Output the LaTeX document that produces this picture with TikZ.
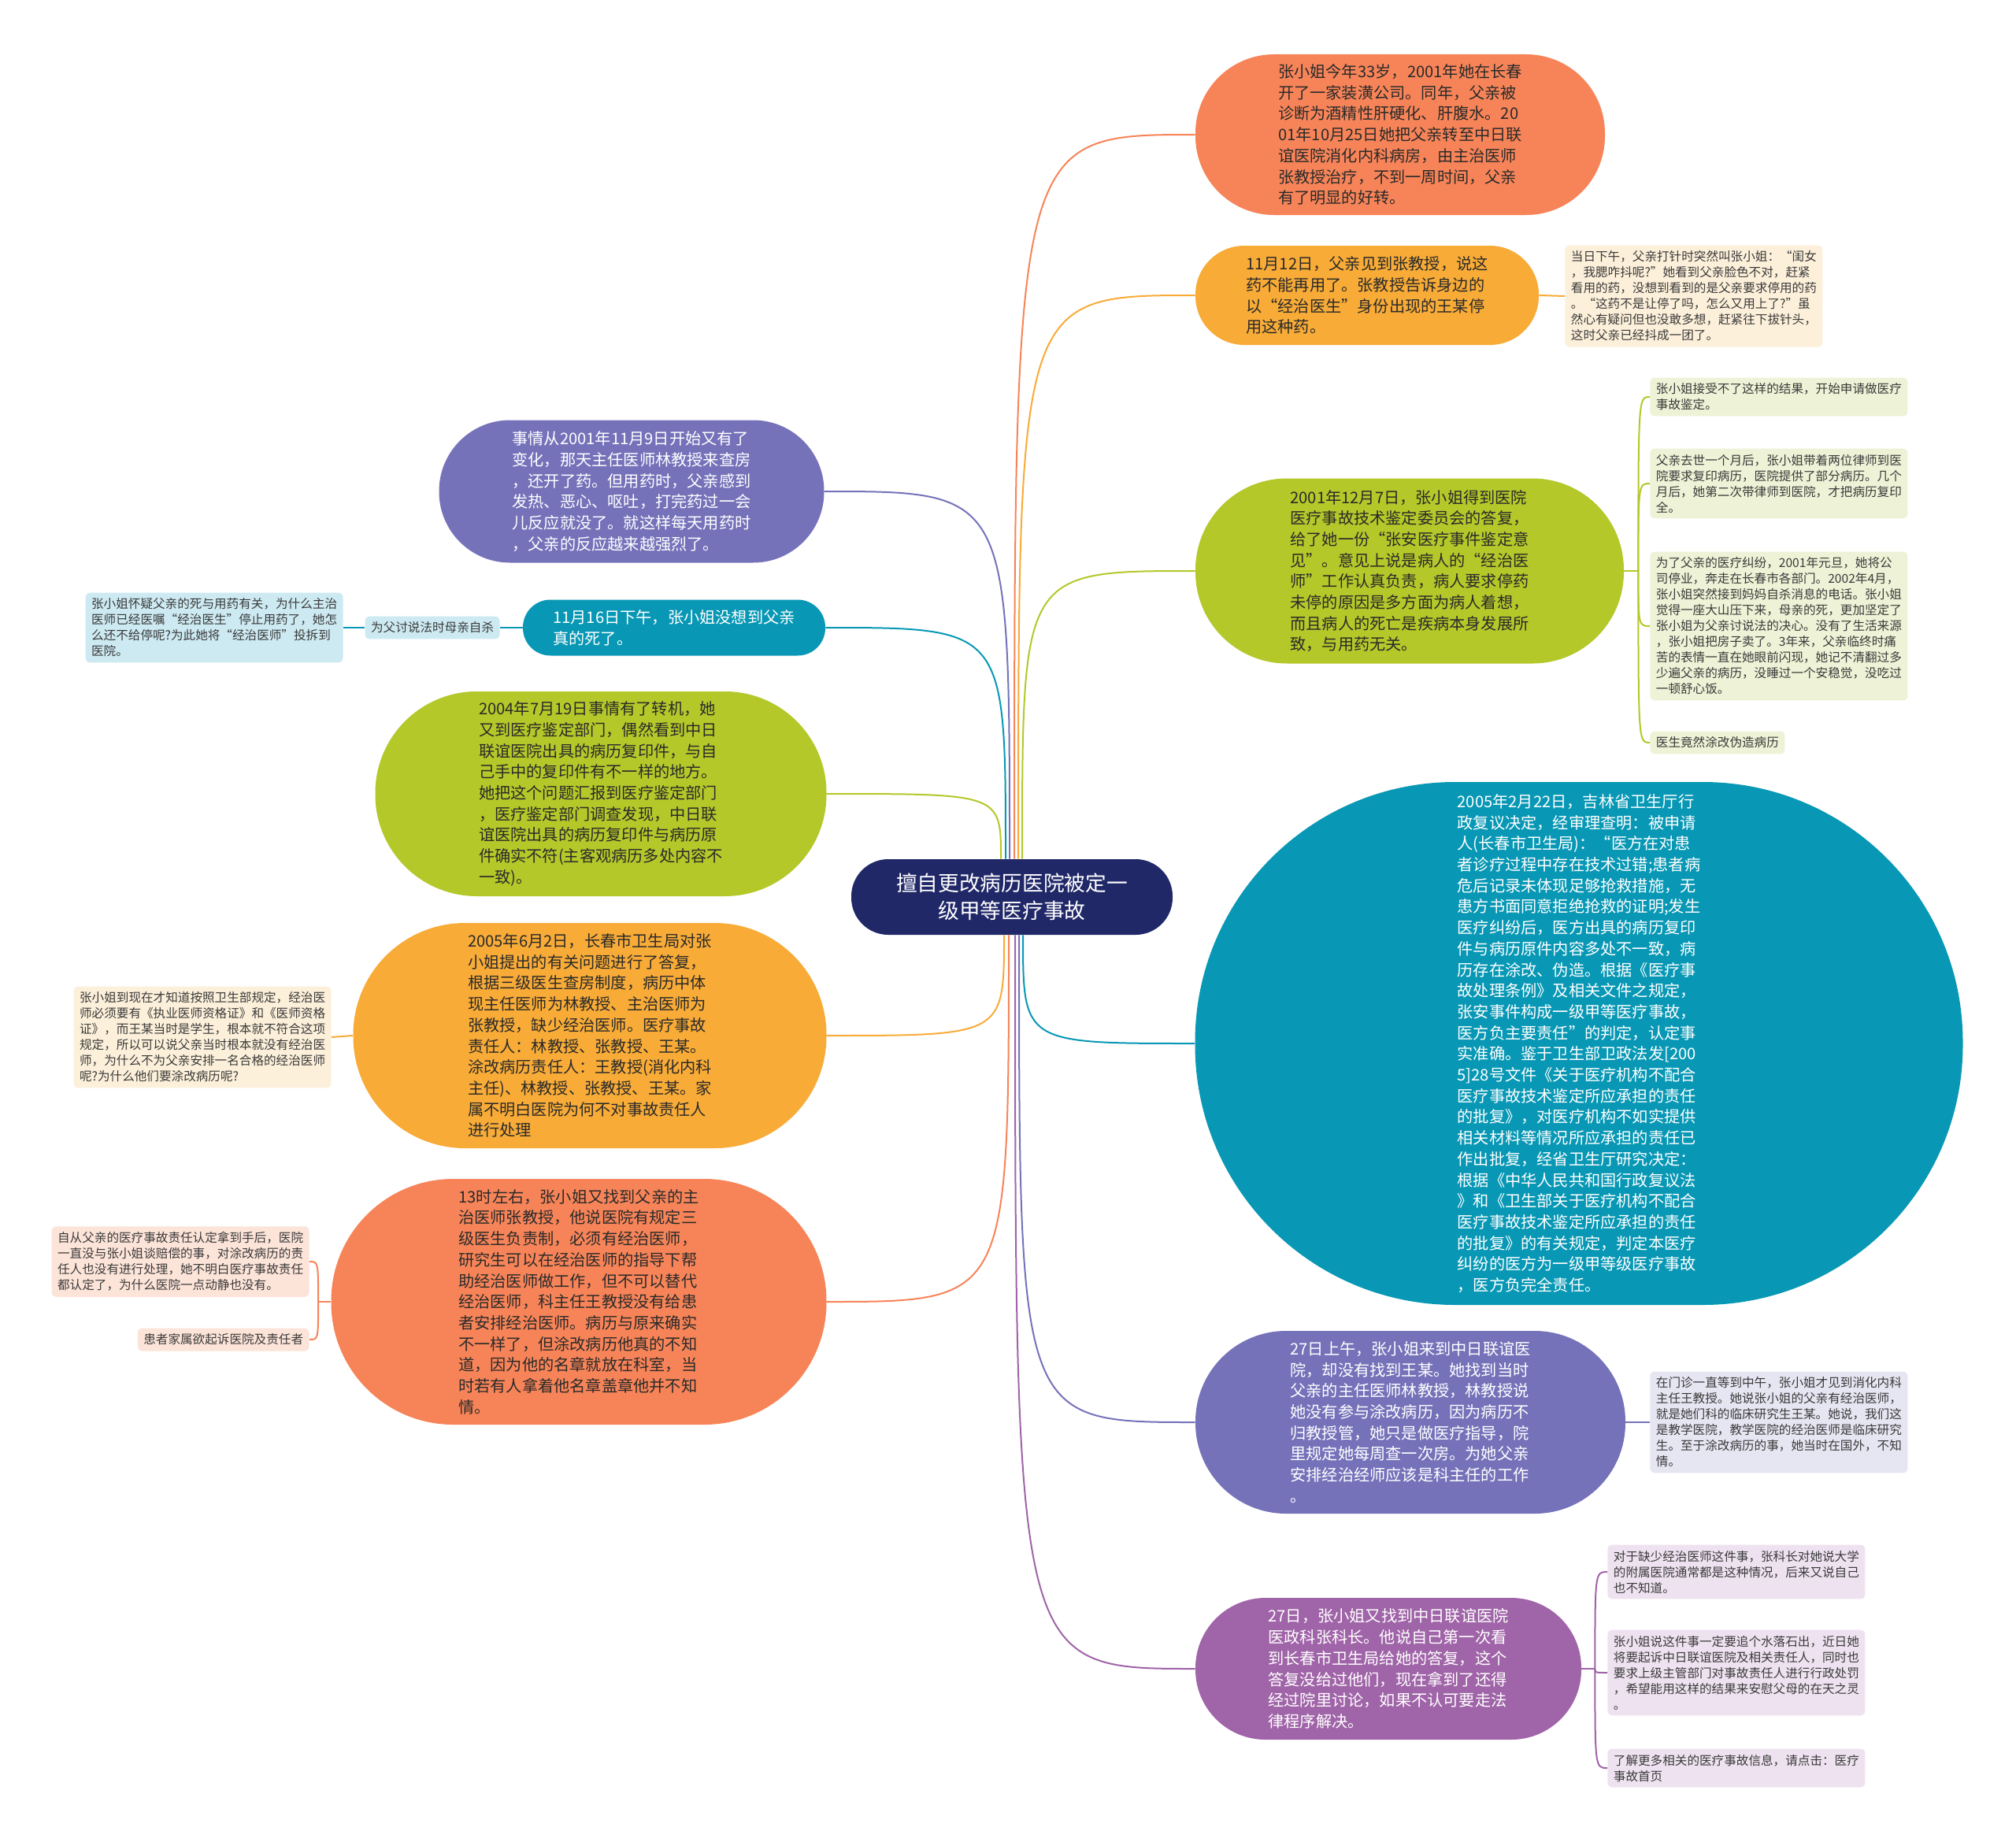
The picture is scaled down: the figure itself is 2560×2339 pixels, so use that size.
\documentclass[tikz,border=0pt]{standalone}
\usepackage{fontspec}
\setmainfont{Noto Sans CJK SC}
\usetikzlibrary{calc}
\definecolor{cNavy}{HTML}{202868}
\definecolor{cOrange}{HTML}{F78458}
\definecolor{cYellow}{HTML}{F8AB37}
\definecolor{cGreen}{HTML}{B4C829}
\definecolor{cTeal}{HTML}{0898B5}
\definecolor{cPurple}{HTML}{7572BA}
\definecolor{cMagenta}{HTML}{A064A8}
\definecolor{nCream}{HTML}{FDF0DA}
\definecolor{nGreen}{HTML}{EEF2D6}
\definecolor{nLav}{HTML}{E6E5F2}
\definecolor{nPink}{HTML}{EEE2F0}
\definecolor{nBlue}{HTML}{CDEAF2}
\definecolor{nSalmon}{HTML}{FDE4D9}
\definecolor{tDark}{HTML}{2A2A2A}
\definecolor{tNote}{HTML}{3A3A3A}
\begin{document}
\begin{tikzpicture}[x=0.5pt,y=-0.5pt,
  topic/.style={rectangle, align=left, inner sep=0pt, font=\fontsize{10.1pt}{13.35pt}\selectfont},
  note/.style={rectangle, rounded corners=3pt, align=left, inner xsep=3.75pt, inner ysep=3.6pt, text=tNote, font=\fontsize{7.8pt}{10pt}\selectfont},
  conn/.style={line width=1pt}]
\fill[white] (0,0) rectangle (2560,2339);
\useasboundingbox (0,0) rectangle (2560,2339);

% centre
\node[rectangle, align=center, inner sep=0pt, fill=cNavy, text=white, minimum width=204pt, minimum height=48pt, rounded corners=23.5pt, font=\fontsize{13.35pt}{17.5pt}\selectfont] (c) at (1285,1139) {擅自更改病历医院被定一\\级甲等医疗事故};

% right topics
\node[topic, fill=cOrange, text=tDark, minimum width=260pt, minimum height=102pt, rounded corners=50pt] (r1) at (1778,171) {张小姐今年33岁，2001年她在长春\\开了一家装潢公司。同年，父亲被\\诊断为酒精性肝硬化、肝腹水。20\\01年10月25日她把父亲转至中日联\\谊医院消化内科病房，由主治医师\\张教授治疗，不到一周时间，父亲\\有了明显的好转。};
\node[topic, fill=cYellow, text=tDark, minimum width=218pt, minimum height=63pt, rounded corners=31pt] (r2) at (1736,375) {11月12日，父亲见到张教授，说这\\药不能再用了。张教授告诉身边的\\以“经治医生”身份出现的王某停\\用这种药。};
\node[topic, fill=cGreen, text=tDark, minimum width=272pt, minimum height=117.5pt, rounded corners=58pt] (r3) at (1790,725) {2001年12月7日，张小姐得到医院\\医疗事故技术鉴定委员会的答复，\\给了她一份“张安医疗事件鉴定意\\见”。意见上说是病人的“经治医\\师”工作认真负责，病人要求停药\\未停的原因是多方面为病人着想，\\而且病人的死亡是疾病本身发展所\\致，与用药无关。};
\node[topic, fill=cTeal, text=white, minimum width=487.5pt, minimum height=332pt, rounded corners=165pt] (r4) at (2005,1325) {2005年2月22日，吉林省卫生厅行\\政复议决定，经审理查明：被申请\\人(长春市卫生局)：“医方在对患\\者诊疗过程中存在技术过错;患者病\\危后记录未体现足够抢救措施，无\\患方书面同意拒绝抢救的证明;发生\\医疗纠纷后，医方出具的病历复印\\件与病历原件内容多处不一致，病\\历存在涂改、伪造。根据《医疗事\\故处理条例》及相关文件之规定，\\张安事件构成一级甲等医疗事故，\\医方负主要责任”的判定，认定事\\实准确。鉴于卫生部卫政法发[200\\5]28号文件《关于医疗机构不配合\\医疗事故技术鉴定所应承担的责任\\的批复》，对医疗机构不如实提供\\相关材料等情况所应承担的责任已\\作出批复，经省卫生厅研究决定：\\根据《中华人民共和国行政复议法\\》和《卫生部关于医疗机构不配合\\医疗事故技术鉴定所应承担的责任\\的批复》的有关规定，判定本医疗\\纠纷的医方为一级甲等级医疗事故\\，医方负完全责任。};
\node[topic, fill=cPurple, text=white, minimum width=273pt, minimum height=116pt, rounded corners=57.5pt] (r5) at (1791,1806) {27日上午，张小姐来到中日联谊医\\院，却没有找到王某。她找到当时\\父亲的主任医师林教授，林教授说\\她没有参与涂改病历，因为病历不\\归教授管，她只是做医疗指导，院\\里规定她每周查一次房。为她父亲\\安排经治经师应该是科主任的工作\\。};
\node[topic, fill=cMagenta, text=white, minimum width=245pt, minimum height=90pt, rounded corners=44.5pt] (r6) at (1763,2119) {27日，张小姐又找到中日联谊医院\\医政科张科长。他说自己第一次看\\到长春市卫生局给她的答复，这个\\答复没给过他们，现在拿到了还得\\经过院里讨论，如果不认可要走法\\律程序解决。};

% left topics
\node[topic, fill=cPurple, text=white, minimum width=244.5pt, minimum height=90.5pt, rounded corners=45pt] (l1) at (802,624) {事情从2001年11月9日开始又有了\\变化，那天主任医师林教授来查房\\，还开了药。但用药时，父亲感到\\发热、恶心、呕吐，打完药过一会\\儿反应就没了。就这样每天用药时\\，父亲的反应越来越强烈了。};
\node[topic, fill=cTeal, text=white, minimum width=192pt, minimum height=35.5pt, rounded corners=17.5pt] (l2) at (856,797) {11月16日下午，张小姐没想到父亲\\真的死了。};
\node[topic, fill=cGreen, text=tDark, minimum width=286.5pt, minimum height=130pt, rounded corners=64.5pt] (l3) at (763,1008) {2004年7月19日事情有了转机，她\\又到医疗鉴定部门，偶然看到中日\\联谊医院出具的病历复印件，与自\\己手中的复印件有不一样的地方。\\她把这个问题汇报到医疗鉴定部门\\，医疗鉴定部门调查发现，中日联\\谊医院出具的病历复印件与病历原\\件确实不符(主客观病历多处内容不\\一致)。};
\node[topic, fill=cYellow, text=tDark, minimum width=300.5pt, minimum height=143pt, rounded corners=71pt] (l4) at (749,1315) {2005年6月2日，长春市卫生局对张\\小姐提出的有关问题进行了答复，\\根据三级医生查房制度，病历中体\\现主任医师为林教授、主治医师为\\张教授，缺少经治医师。医疗事故\\责任人：林教授、张教授、王某。\\涂改病历责任人：王教授(消化内科\\主任)、林教授、张教授、王某。家\\属不明白医院为何不对事故责任人\\进行处理};
\node[topic, fill=cOrange, text=tDark, minimum width=314.5pt, minimum height=156pt, rounded corners=77.5pt] (l5) at (735,1653) {13时左右，张小姐又找到父亲的主\\治医师张教授，他说医院有规定三\\级医生负责制，必须有经治医师，\\研究生可以在经治医师的指导下帮\\助经治医师做工作，但不可以替代\\经治医师，科主任王教授没有给患\\者安排经治医师。病历与原来确实\\不一样了，但涂改病历他真的不知\\道，因为他的名章就放在科室，当\\时若有人拿着他名章盖章他并不知\\情。};

% notes right
\node[note, fill=nCream, anchor=west] (r2n) at (1987,376) {当日下午，父亲打针时突然叫张小姐：“闺女\\，我腮咋抖呢?”她看到父亲脸色不对，赶紧\\看用的药，没想到看到的是父亲要求停用的药\\。“这药不是让停了吗，怎么又用上了?”虽\\然心有疑问但也没敢多想，赶紧往下拔针头，\\这时父亲已经抖成一团了。};
\node[note, fill=nGreen, anchor=west] (r3a) at (2095,504) {张小姐接受不了这样的结果，开始申请做医疗\\事故鉴定。};
\node[note, fill=nGreen, anchor=west] (r3b) at (2095,614) {父亲去世一个月后，张小姐带着两位律师到医\\院要求复印病历，医院提供了部分病历。几个\\月后，她第二次带律师到医院，才把病历复印\\全。};
\node[note, fill=nGreen, anchor=west] (r3c) at (2095,795) {为了父亲的医疗纠纷，2001年元旦，她将公\\司停业，奔走在长春市各部门。2002年4月，\\张小姐突然接到妈妈自杀消息的电话。张小姐\\觉得一座大山压下来，母亲的死，更加坚定了\\张小姐为父亲讨说法的决心。没有了生活来源\\，张小姐把房子卖了。3年来，父亲临终时痛\\苦的表情一直在她眼前闪现，她记不清翻过多\\少遍父亲的病历，没睡过一个安稳觉，没吃过\\一顿舒心饭。};
\node[note, fill=nGreen, anchor=west] (r3d) at (2095,943) {医生竟然涂改伪造病历};
\node[note, fill=nLav, anchor=west] (r5n) at (2095,1806) {在门诊一直等到中午，张小姐才见到消化内科\\主任王教授。她说张小姐的父亲有经治医师，\\就是她们科的临床研究生王某。她说，我们这\\是教学医院，教学医院的经治医师是临床研究\\生。至于涂改病历的事，她当时在国外，不知\\情。};
\node[note, fill=nPink, anchor=west] (r6a) at (2041,1996) {对于缺少经治医师这件事，张科长对她说大学\\的附属医院通常都是这种情况，后来又说自己\\也不知道。};
\node[note, fill=nPink, anchor=west] (r6b) at (2041,2124) {张小姐说这件事一定要追个水落石出，近日她\\将要起诉中日联谊医院及相关责任人，同时也\\要求上级主管部门对事故责任人进行行政处罚\\，希望能用这样的结果来安慰父母的在天之灵\\。};
\node[note, fill=nPink, anchor=west] (r6c) at (2041,2245) {了解更多相关的医疗事故信息，请点击：医疗\\事故首页};

% notes left
\node[note, fill=nBlue, anchor=east] (l2a) at (635,797) {为父讨说法时母亲自杀};
\node[note, fill=nBlue, anchor=east] (l2b) at (436,797) {张小姐怀疑父亲的死与用药有关，为什么主治\\医师已经医嘱“经治医生”停止用药了，她怎\\么还不给停呢?为此她将“经治医师”投拆到\\医院。};
\node[note, fill=nCream, anchor=east] (l4n) at (421,1317) {张小姐到现在才知道按照卫生部规定，经治医\\师必须要有《执业医师资格证》和《医师资格\\证》，而王某当时是学生，根本就不符合这项\\规定，所以可以说父亲当时根本就没有经治医\\师，为什么不为父亲安排一名合格的经治医师\\呢?为什么他们要涂改病历呢?};
\node[note, fill=nSalmon, anchor=east] (l5a) at (393,1602) {自从父亲的医疗事故责任认定拿到手后，医院\\一直没与张小姐谈赔偿的事，对涂改病历的责\\任人也没有进行处理，她不明白医疗事故责任\\都认定了，为什么医院一点动静也没有。};
\node[note, fill=nSalmon, anchor=east] (l5b) at (393,1701) {患者家属欲起诉医院及责任者};

% start points on centre node
\coordinate (sL3) at ($(c.north)+(-14,0)$);
\coordinate (sL2) at ($(c.north)+(-8,0)$);
\coordinate (sL1) at ($(c.north)+(-3,0)$);
\coordinate (sR1) at ($(c.north)+(3,0)$);
\coordinate (sR2) at ($(c.north)+(8,0)$);
\coordinate (sR3) at ($(c.north)+(13,0)$);
\coordinate (sL4) at ($(c.south)+(-10,0)$);
\coordinate (sL5) at ($(c.south)+(-4,0)$);
\coordinate (sR6) at ($(c.south)+(4,0)$);
\coordinate (sR5) at ($(c.south)+(9,0)$);
\coordinate (sR4) at ($(c.south)+(14,0)$);

\draw[conn, cOrange] (sR1) .. controls (sR1 |- r1.west) .. (r1.west);
\draw[conn, cYellow] (sR2) .. controls (sR2 |- r2.west) .. (r2.west);
\draw[conn, cGreen] (sR3) .. controls (sR3 |- r3.west) .. (r3.west);
\draw[conn, cTeal] (sR4) .. controls (sR4 |- r4.west) .. (r4.west);
\draw[conn, cPurple] (sR5) .. controls (sR5 |- r5.west) .. (r5.west);
\draw[conn, cMagenta] (sR6) .. controls (sR6 |- r6.west) .. (r6.west);
\draw[conn, cPurple] (sL1) .. controls (sL1 |- l1.east) .. (l1.east);
\draw[conn, cTeal] (sL2) .. controls (sL2 |- l2.east) .. (l2.east);
\draw[conn, cGreen] (sL3) .. controls (sL3 |- l3.east) .. (l3.east);
\draw[conn, cYellow] (sL4) .. controls (sL4 |- l4.east) .. (l4.east);
\draw[conn, cOrange] (sL5) .. controls (sL5 |- l5.east) .. (l5.east);

% note connectors
\draw[conn, cYellow] (r2.east) -- (r2n.west);
\draw[conn, cPurple] (r5.east) -- (r5n.west);
\draw[conn, cYellow] (l4.west) -- (l4n.east);
\draw[conn, cTeal] (l2.west) -- (l2a.east);
\draw[conn, cTeal] (l2a.west) -- (l2b.east);

\coordinate (j3) at ($(r3.east)+(18,0)$);
\draw[conn, cGreen] (r3.east) -- (j3);
\foreach \n in {r3a,r3b,r3c,r3d}{\draw[conn, cGreen] (j3) .. controls (j3 |- \n.west) .. (\n.west);}
\coordinate (j6) at ($(r6.east)+(17,0)$);
\draw[conn, cMagenta] (r6.east) -- (j6);
\foreach \n in {r6a,r6b,r6c}{\draw[conn, cMagenta] (j6) .. controls (j6 |- \n.west) .. (\n.west);}
\coordinate (j5) at ($(l5.west)+(-16,0)$);
\draw[conn, cOrange] (l5.west) -- (j5);
\foreach \n in {l5a,l5b}{\draw[conn, cOrange] (j5) .. controls (j5 |- \n.east) .. (\n.east);}
\end{tikzpicture}
\end{document}
